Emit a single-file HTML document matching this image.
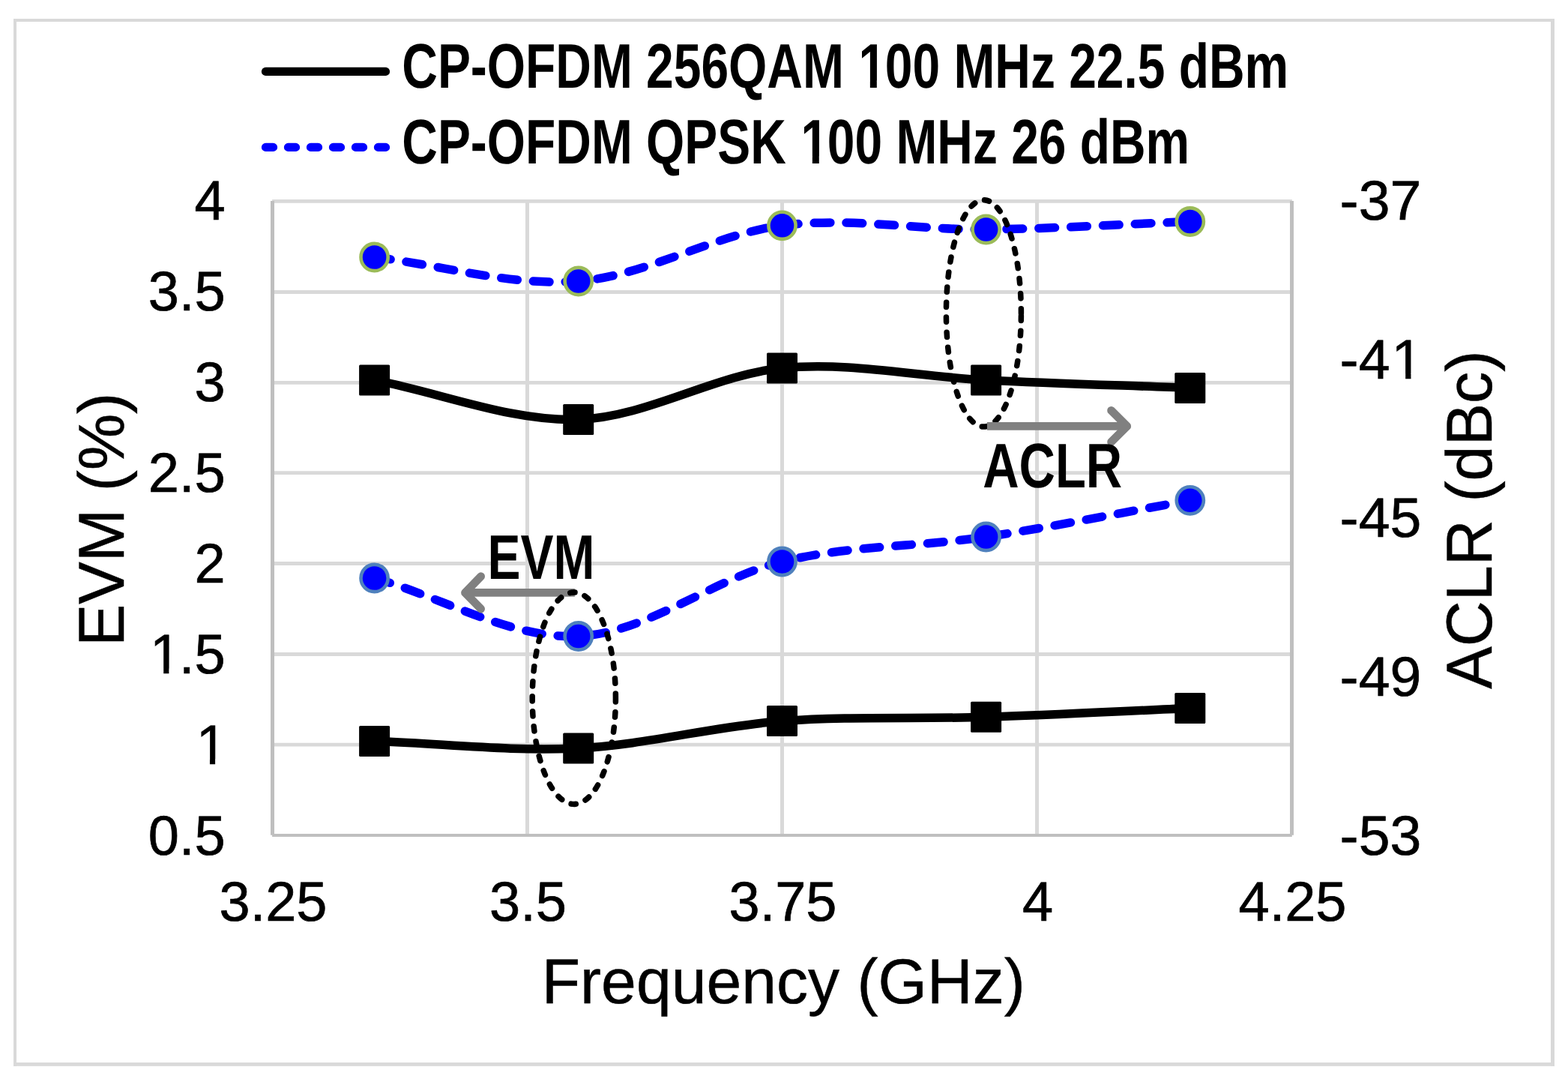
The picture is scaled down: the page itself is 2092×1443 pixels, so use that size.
<!DOCTYPE html>
<html lang="en"><head><meta charset="utf-8"><title>EVM and ACLR vs Frequency</title>
<style>
html,body{margin:0;padding:0;background:#fff;}
body{width:2092px;height:1443px;overflow:hidden;}
svg{display:block;}
text{font-family:"Liberation Sans",sans-serif;fill:#000;font-kerning:none;text-rendering:geometricPrecision;}
.t{font-size:74px;stroke:#000;stroke-width:0.7px;stroke-linejoin:miter;}
.ax{font-size:84.6px;stroke:#000;stroke-width:0.5px;stroke-linejoin:miter;}
.nb{font-size:80px;font-weight:bold;}
</style></head><body>
<svg width="2092" height="1443" viewBox="0 0 2092 1443">
<rect x="0" y="0" width="2092" height="1443" fill="#fff"/>
<g fill="#d9d9d9">
<rect x="18" y="25" width="2056" height="4"/>
<rect x="18" y="25" width="4" height="1396.8"/>
<rect x="2069" y="25" width="5" height="1396.8"/>
<rect x="18" y="1417" width="2056" height="4.8"/>
</g>
<g stroke="#d9d9d9" fill="none">
<line x1="363.1" y1="268.30" x2="1723.8" y2="268.30" stroke-width="4.8"/>
<line x1="363.1" y1="389.50" x2="1723.8" y2="389.50" stroke-width="4.8"/>
<line x1="363.1" y1="510.30" x2="1723.8" y2="510.30" stroke-width="4.8"/>
<line x1="363.1" y1="630.60" x2="1723.8" y2="630.60" stroke-width="4.8"/>
<line x1="363.1" y1="751.50" x2="1723.8" y2="751.50" stroke-width="4.8"/>
<line x1="363.1" y1="872.50" x2="1723.8" y2="872.50" stroke-width="4.8"/>
<line x1="363.1" y1="993.10" x2="1723.8" y2="993.10" stroke-width="4.8"/>
<line x1="703.5" y1="268.3" x2="703.5" y2="1114.0" stroke-width="5"/>
<line x1="1043.5" y1="268.3" x2="1043.5" y2="1114.0" stroke-width="5"/>
<line x1="1383.5" y1="268.3" x2="1383.5" y2="1114.0" stroke-width="5"/>
</g>
<g stroke="#bfbfbf" fill="none">
<line x1="363.5" y1="268.0" x2="363.5" y2="1113.8" stroke-width="5"/>
<line x1="1723.5" y1="268.0" x2="1723.5" y2="1113.8" stroke-width="5"/>
<line x1="363.1" y1="1114.0" x2="1723.8" y2="1114.0" stroke-width="4"/>
</g>
<path d="M499.6 988.5 C590.3 991.6 681.1 1002.4 771.7 997.9 C862.4 993.4 952.9 968.5 1043.5 961.6 C1134.2 954.7 1224.9 959.1 1315.6 956.3 C1406.3 953.4 1497.1 948.4 1587.8 944.5" fill="none" stroke="#000" stroke-width="11.5" stroke-linecap="round" stroke-linejoin="round"/>
<path d="M499.6 771.0 C590.3 796.8 681.1 852.2 771.7 848.5 C862.4 844.8 952.9 771.1 1043.5 749.0 C1134.2 726.9 1224.9 729.6 1315.6 716.0 C1406.3 702.4 1497.1 683.5 1587.8 667.3" fill="none" stroke="#00f" stroke-width="11.5" stroke-linecap="round" stroke-linejoin="round" stroke-dasharray="21.7 21.15"/>
<path d="M499.6 507.0 C590.3 524.5 681.1 562.2 771.7 559.5 C862.4 556.8 952.9 499.7 1043.5 490.9 C1134.2 482.1 1224.9 502.5 1315.6 506.9 C1406.3 511.3 1497.1 513.9 1587.8 517.4" fill="none" stroke="#000" stroke-width="11.5" stroke-linecap="round" stroke-linejoin="round"/>
<path d="M499.6 343.0 C590.3 353.7 681.1 382.0 771.7 375.0 C862.4 368.0 952.9 312.3 1043.5 300.8 C1134.2 289.3 1224.9 306.9 1315.6 306.0 C1406.3 305.1 1497.1 299.0 1587.8 295.5" fill="none" stroke="#00f" stroke-width="11.5" stroke-linecap="round" stroke-linejoin="round" stroke-dasharray="21.7 21.15"/>
<rect x="479.1" y="968.0" width="41" height="41" rx="1.5" fill="#000"/>
<rect x="751.2" y="977.4" width="41" height="41" rx="1.5" fill="#000"/>
<rect x="1023.0" y="941.1" width="41" height="41" rx="1.5" fill="#000"/>
<rect x="1295.1" y="935.8" width="41" height="41" rx="1.5" fill="#000"/>
<rect x="1567.3" y="924.0" width="41" height="41" rx="1.5" fill="#000"/>
<rect x="479.1" y="486.5" width="41" height="41" rx="1.5" fill="#000"/>
<rect x="751.2" y="539.0" width="41" height="41" rx="1.5" fill="#000"/>
<rect x="1023.0" y="470.4" width="41" height="41" rx="1.5" fill="#000"/>
<rect x="1295.1" y="486.4" width="41" height="41" rx="1.5" fill="#000"/>
<rect x="1567.3" y="496.9" width="41" height="41" rx="1.5" fill="#000"/>
<circle cx="499.6" cy="771.0" r="18.1" fill="#00f" stroke="#4f81bd" stroke-width="4.6"/>
<circle cx="771.7" cy="848.5" r="18.1" fill="#00f" stroke="#4f81bd" stroke-width="4.6"/>
<circle cx="1043.5" cy="749.0" r="18.1" fill="#00f" stroke="#4f81bd" stroke-width="4.6"/>
<circle cx="1315.6" cy="716.0" r="18.1" fill="#00f" stroke="#4f81bd" stroke-width="4.6"/>
<circle cx="1587.8" cy="667.3" r="18.1" fill="#00f" stroke="#4f81bd" stroke-width="4.6"/>
<circle cx="499.6" cy="343.0" r="18.1" fill="#00f" stroke="#9bbb59" stroke-width="4.6"/>
<circle cx="771.7" cy="375.0" r="18.1" fill="#00f" stroke="#9bbb59" stroke-width="4.6"/>
<circle cx="1043.5" cy="300.8" r="18.1" fill="#00f" stroke="#9bbb59" stroke-width="4.6"/>
<circle cx="1315.6" cy="306.0" r="18.1" fill="#00f" stroke="#9bbb59" stroke-width="4.6"/>
<circle cx="1587.8" cy="295.5" r="18.1" fill="#00f" stroke="#9bbb59" stroke-width="4.6"/>
<path d="M1362.4 417.9A50.0 151.2 0 0 0 1262.4 417.9A50.0 151.2 0 0 0 1362.4 417.9" pathLength="33.481" stroke="#000" stroke-width="7.5" fill="none" stroke-linecap="round" stroke-dasharray="0.312 0.688"/>
<g stroke="#808080" stroke-width="10.8" fill="none" stroke-linejoin="round">
<path d="M1317 568.4H1502"/>
<path d="M1482.6 547.4L1503.7 568.4L1482.6 589.4" stroke-linecap="round"/>
<path d="M766.9 790.4H622"/>
<path d="M641.6 768.7L620.5 790.4L641.6 812.1" stroke-linecap="round"/>
</g>
<path d="M821.4 931.2A55.6 141.2 0 0 0 710.2 931.2A55.6 141.2 0 0 0 821.4 931.2" pathLength="32.248" stroke="#000" stroke-width="7.5" fill="none" stroke-linecap="round" stroke-dasharray="0.312 0.688"/>
<text class="nb" transform="translate(1311.23 649.70) scale(0.8369 1.050)" x="0.00">ACLR</text>
<text class="nb" transform="translate(650.59 772.00) scale(0.8244 1.050)" x="0.00">EVM</text>
<line x1="354.45" y1="95.4" x2="514.5" y2="95.4" stroke="#000" stroke-width="11.2" stroke-linecap="round"/>
<line x1="354.45" y1="196.4" x2="520" y2="196.4" stroke="#00f" stroke-width="11.2" stroke-linecap="round" stroke-dasharray="10.1 19.9"/>
<clipPath id="k1" clipPathUnits="userSpaceOnUse"><path clip-rule="evenodd" d="M-2200 -300H2200V300H-2200ZM742.45 -8.66H758.14V4H742.45ZM769.01 -8.66H783.68V4H769.01Z"/></clipPath>
<text class="nb" transform="translate(536.30 116.60) scale(0.8238 1.050)" x="0.00" clip-path="url(#k1)">CP-OFDM 256QAM <tspan dx="1.56">1</tspan><tspan dx="-1.56">00 MHz 22.5 dBm</tspan></text>
<clipPath id="k2" clipPathUnits="userSpaceOnUse"><path clip-rule="evenodd" d="M-2200 -300H2200V300H-2200ZM649.05 -8.66H664.74V4H649.05ZM675.61 -8.66H690.28V4H675.61Z"/></clipPath>
<text class="nb" transform="translate(536.30 217.60) scale(0.8237 1.050)" x="0.00" clip-path="url(#k2)">CP-OFDM QPSK <tspan dx="1.56">1</tspan><tspan dx="-1.56">00 MHz 26 dBm</tspan></text>
<text class="t" transform="translate(300.70 293.20) scale(1.0000 1.006)" x="-41.16">4</text>
<text class="t" transform="translate(300.70 414.40) scale(1.0000 1.006)" x="-102.87">3.5</text>
<text class="t" transform="translate(300.70 535.30) scale(1.0000 1.006)" x="-41.16">3</text>
<text class="t" transform="translate(300.70 655.80) scale(1.0000 1.006)" x="-102.87">2.5</text>
<text class="t" transform="translate(300.70 776.90) scale(1.0000 1.006)" x="-41.16">2</text>
<clipPath id="k3" clipPathUnits="userSpaceOnUse"><path clip-rule="evenodd" d="M-2200 -300H2200V300H-2200ZM-97.14 -6.38H-82.47V4H-97.14ZM-75.33 -6.38H-61.23V4H-75.33Z"/></clipPath>
<text class="t" transform="translate(300.70 898.10) scale(1.0000 1.006)" x="-102.87" clip-path="url(#k3)"><tspan dx="2.10">1</tspan><tspan dx="-2.10">.5</tspan></text>
<clipPath id="k4" clipPathUnits="userSpaceOnUse"><path clip-rule="evenodd" d="M-2200 -300H2200V300H-2200ZM-35.42 -6.38H-20.75V4H-35.42ZM-13.61 -6.38H0.48V4H-13.61Z"/></clipPath>
<text class="t" transform="translate(300.70 1019.00) scale(1.0000 1.006)" x="-41.16" clip-path="url(#k4)"><tspan dx="2.10">1</tspan></text>
<text class="t" transform="translate(300.70 1140.10) scale(1.0000 1.006)" x="-102.87">0.5</text>
<text class="t" transform="translate(1787.60 293.00) scale(1.0160 1.006)" x="0.00">-37</text>
<clipPath id="k5" clipPathUnits="userSpaceOnUse"><path clip-rule="evenodd" d="M-2200 -300H2200V300H-2200ZM71.53 -6.38H86.20V4H71.53ZM93.34 -6.38H107.44V4H93.34Z"/></clipPath>
<text class="t" transform="translate(1787.60 504.90) scale(1.0160 1.006)" x="0.00" clip-path="url(#k5)">-4<tspan dx="2.10">1</tspan></text>
<text class="t" transform="translate(1787.60 715.80) scale(1.0160 1.006)" x="0.00">-45</text>
<text class="t" transform="translate(1787.60 927.50) scale(1.0160 1.006)" x="0.00">-49</text>
<text class="t" transform="translate(1787.60 1140.20) scale(1.0160 1.006)" x="0.00">-53</text>
<text class="t" transform="translate(364.50 1227.60) scale(1.0000 1.006)" x="-72.01">3.25</text>
<text class="t" transform="translate(704.50 1227.60) scale(1.0000 1.006)" x="-51.44">3.5</text>
<text class="t" transform="translate(1044.50 1227.60) scale(1.0000 1.006)" x="-72.01">3.75</text>
<text class="t" transform="translate(1384.50 1227.60) scale(1.0000 1.006)" x="-20.58">4</text>
<text class="t" transform="translate(1724.50 1227.60) scale(1.0000 1.006)" x="-72.01">4.25</text>
<text class="ax" transform="translate(1045.30 1338.00) scale(0.9945 1.000)" x="-324.38">Frequency (GHz)</text>
<text class="ax" transform="translate(165.10 692.90) rotate(-90) scale(1.0000 1.020)" x="-169.20">EVM (%)</text>
<text class="ax" transform="translate(1990.10 693.10) rotate(-90) scale(1.0000 1.020)" x="-225.65">ACLR (dBc)</text>
</svg></body></html>
